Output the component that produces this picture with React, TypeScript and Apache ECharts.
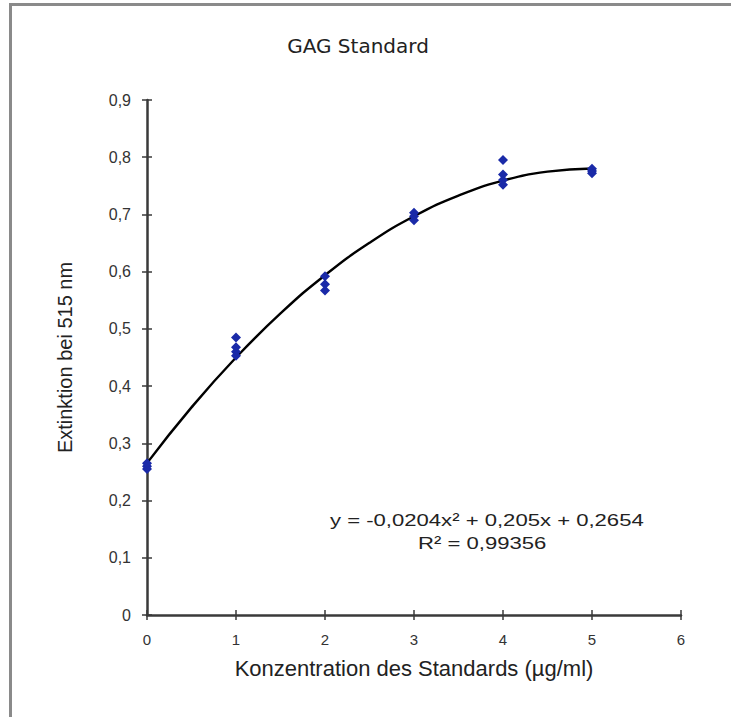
import React, { useEffect, useRef } from "react";
import * as echarts from "echarts";

const title = "GAG Standard";
const xName = "Konzentration des Standards (µg/ml)";
const yName = "Extinktion bei 515 nm";
const equationLines = ["y = -0,0204x² + 0,205x + 0,2654", "R² = 0,99356"];

const measuredX = [0, 0, 0, 1, 1, 1, 1, 2, 2, 2, 3, 3, 3, 4, 4, 4, 4, 5, 5, 5];
const measuredY = [0.255, 0.26, 0.265, 0.485, 0.468, 0.46, 0.453, 0.592, 0.578, 0.567, 0.703, 0.697, 0.69, 0.795, 0.77, 0.76, 0.752, 0.78, 0.776, 0.772];

const trendX = [0, 0.5, 1, 1.5, 2, 2.5, 3, 3.5, 4, 4.5, 5];
const trendY = [0.2654, 0.3628, 0.45, 0.527, 0.5938, 0.6504, 0.6968, 0.733, 0.759, 0.7748, 0.7804];

const fmt = (v: number) => String(Math.round(v * 10) / 10).replace(".", ",");

export default function App() {
  const ref = useRef<HTMLDivElement>(null);
  useEffect(() => {
    if (!ref.current) return;
    const chart = echarts.init(ref.current, undefined, { renderer: "svg" });
    const font = "'Liberation Sans', Arial, sans-serif";
    const axisColor = "#3a3a3a";
    const axisCommon = {
      min: 0,
      splitLine: { show: false },
    };
    chart.setOption({
      animation: false,
      backgroundColor: "#ffffff",
      title: {
        text: title,
        left: 353,
        top: 31,
        textAlign: "center",
        textStyle: { fontFamily: "'DejaVu Sans', sans-serif", fontSize: 20, fontWeight: "normal", color: "#222" },
      },
      grid: { left: 147, top: 100, right: 50, bottom: 102, containLabel: false },
      xAxis: [
        {
          ...axisCommon,
          type: "value",
          max: 6,
          interval: 1,
          name: xName,
          nameLocation: "middle",
          nameGap: 42,
          nameTextStyle: { fontFamily: font, fontSize: 22, color: "#222" },
          axisLine: { show: true, lineStyle: { color: axisColor, width: 2.5 } },
          axisTick: { show: true, length: 5, lineStyle: { color: axisColor, width: 1.5 } },
          axisLabel: { fontFamily: font, fontSize: 15, color: "#333", margin: 17 },
        },
        {
          ...axisCommon,
          type: "value",
          max: 6,
          interval: 1,
          position: "bottom",
          axisLine: { show: false },
          axisTick: { show: true, inside: true, length: 5, lineStyle: { color: axisColor, width: 1.5 } },
          axisLabel: { show: false },
        },
      ],
      yAxis: [
        {
          ...axisCommon,
          type: "value",
          max: 0.9,
          interval: 0.1,
          name: yName,
          nameLocation: "middle",
          nameGap: 72,
          nameTextStyle: { fontFamily: font, fontSize: 20, color: "#222" },
          axisLine: { show: true, lineStyle: { color: axisColor, width: 2.5 } },
          axisTick: { show: true, length: 5, lineStyle: { color: axisColor, width: 1.5 } },
          axisLabel: { fontFamily: font, fontSize: 16, color: "#333", margin: 16, formatter: fmt },
        },
        {
          ...axisCommon,
          type: "value",
          max: 0.9,
          interval: 0.1,
          position: "left",
          axisLine: { show: false },
          axisTick: { show: true, inside: true, length: 5, lineStyle: { color: axisColor, width: 1.5 } },
          axisLabel: { show: false },
        },
      ],
      series: [
        {
          type: "line",
          data: trendX.map((x, i) => [x, trendY[i]]),
          smooth: true,
          showSymbol: false,
          lineStyle: { color: "#000", width: 2.4 },
          z: 2,
        },
        {
          type: "scatter",
          data: measuredX.map((x, i) => [x, measuredY[i]]),
          symbol: "diamond",
          symbolSize: 10,
          itemStyle: { color: "#1a2aa8", opacity: 1 },
          z: 3,
        },
      ],
      graphic: [
        {
          type: "line",
          shape: { x1: 10.5, y1: 4, x2: 10.5, y2: 717 },
          style: { stroke: "#8a8a8a", lineWidth: 3 },
          silent: true,
        },
        {
          type: "line",
          shape: { x1: 9, y1: 4.5, x2: 731, y2: 4.5 },
          style: { stroke: "#8a8a8a", lineWidth: 3 },
          silent: true,
        },
        {
          type: "text",
          x: 330,
          y: 511,
          scaleX: 1.3,
          style: { text: equationLines[0], font: `17px ${font}`, fill: "#222" },
        },
        {
          type: "text",
          x: 418,
          y: 534,
          scaleX: 1.3,
          style: { text: equationLines[1], font: `17px ${font}`, fill: "#222" },
        },
      ],
    });
    return () => chart.dispose();
  }, []);
  return <div ref={ref} style={{ position: "fixed", left: 0, top: 0, width: 731, height: 717 }} />;
}
